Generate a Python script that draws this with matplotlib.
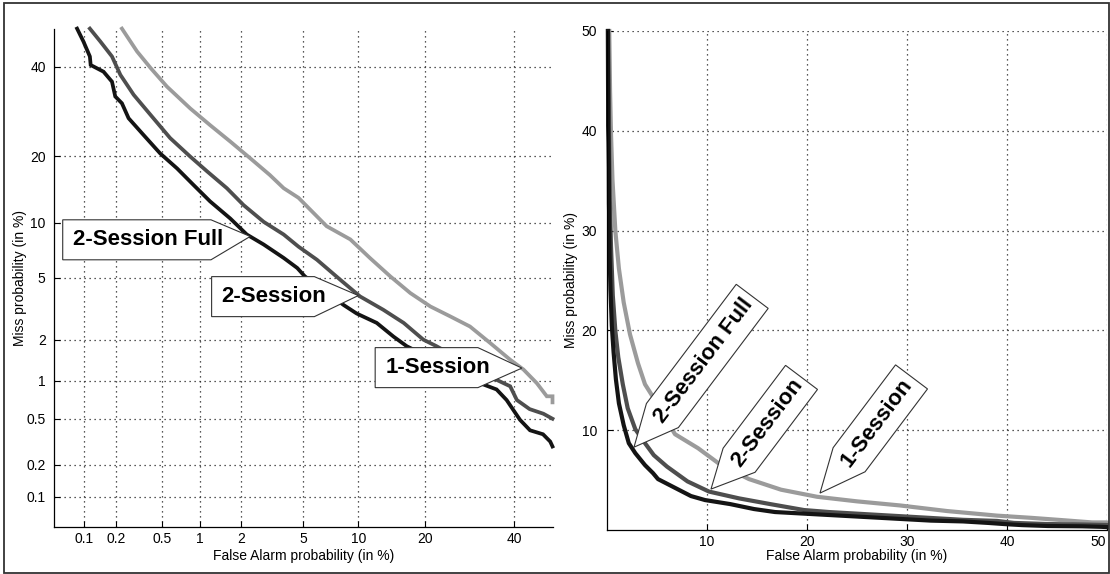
import numpy as np
import matplotlib
matplotlib.use("Agg")
import matplotlib.pyplot as plt
import matplotlib.transforms as mtransforms
from matplotlib.path import Path
from matplotlib.patches import Rectangle
from matplotlib.ticker import FixedLocator, FixedFormatter, NullLocator
from statistics import NormalDist

plt.rcParams['font.family'] = ['Liberation Sans', 'DejaVu Sans']

# DET curves: false alarm (%) vs miss (%)
fa_1s = [0.224, 0.305, 0.40, 0.546, 0.84, 1.19, 1.67, 2.3, 3.1, 3.8, 4.68, 6.8, 9.1,
         11.4, 14.2, 17.4, 21.0, 25.0, 29.3, 34.0, 39.0, 42.4, 45.9, 48.5, 50.0, 50.0]
miss_1s = [50.0, 44.0, 39.7, 35.1, 29.9, 26.2, 22.8, 19.6, 16.7, 14.6, 13.2, 9.6, 8.2,
           6.5, 5.1, 4.04, 3.33, 2.87, 2.46, 1.9, 1.44, 1.22, 0.96, 0.76, 0.76, 0.68]

fa_2s = [0.113, 0.142, 0.182, 0.217, 0.285, 0.40, 0.58, 0.84, 1.13, 1.58, 2.07, 2.83,
         3.8, 4.68, 6.0, 8.05, 10.2, 13.2, 16.3, 19.7, 22.2, 35.6, 39.0, 40.7, 44.0,
         47.6, 50.0]
miss_2s = [50.0, 46.6, 42.7, 38.0, 33.1, 28.4, 23.5, 19.9, 17.3, 14.6, 12.2, 10.1,
           8.7, 7.5, 6.35, 4.87, 3.85, 3.17, 2.6, 2.0, 1.8, 1.02, 0.91, 0.71, 0.6,
           0.55, 0.5]

fa_2sf = [0.085, 0.098, 0.113, 0.115, 0.152, 0.182, 0.195, 0.224, 0.257, 0.348, 0.48,
          0.66, 0.89, 1.19, 1.67, 2.18, 2.83, 3.8, 4.6, 5.1, 8.4, 9.8, 12.3, 14.7, 16.8,
          32.4, 35.6, 38.1, 39.8, 41.5, 44.1, 47.5, 49.4, 50.0]
miss_2sf = [50.0, 46.6, 42.7, 40.5, 38.8, 36.3, 32.7, 31.1, 27.7, 24.1, 20.5, 17.8,
            15.1, 12.7, 10.5, 8.7, 7.7, 6.5, 5.7, 5.1, 3.4, 3.0, 2.6, 2.1, 1.8, 0.94,
            0.86, 0.71, 0.59, 0.49, 0.40, 0.37, 0.32, 0.29]

det_ticks = [0.1, 0.2, 0.5, 1, 2, 5, 10, 20, 40]
det_labels = ['0.1', '0.2', '0.5', '1', '2', '5', '10', '20', '40']
lin_ticks = [10, 20, 30, 40, 50]

labels = ['1-Session', '2-Session', '2-Session Full']
colors = ['#9b9b9b', '#4e4e4e', '#141414']

# callout label positions (text centre, arrow tip) in data units
det_text = [(22.4, 1.26), (3.3, 3.84), (0.378, 8.16)]
det_tip = [(42.0, 1.25), (10.0, 3.9), (2.3, 8.5)]
lin_text = [(27.0, 10.75), (16.0, 10.7), (9.7, 17.0)]
lin_tip = [(21.3, 3.7), (10.4, 4.1), (2.7, 8.3)]

_nd = NormalDist()
_ppf = np.vectorize(_nd.inv_cdf, otypes=[float])
_cdf = np.vectorize(_nd.cdf, otypes=[float])


def probit(p):
    p = np.clip(np.asarray(p, dtype=float) / 100.0, 1e-7, 1 - 1e-7)
    return _ppf(p)


def unprobit(z):
    return _cdf(np.asarray(z, dtype=float)) * 100.0


def pointer_box(dx, dy, angle, pad_back, shoulder, k=1.8):
    a = np.deg2rad(angle)
    du = dx * np.cos(a) + dy * np.sin(a)
    dv = -dx * np.sin(a) + dy * np.cos(a)

    def style(x0, y0, width, height, mutation_size):
        cx, cy = x0 + width / 2, y0 + height / 2
        half = k * mutation_size / 2
        if du > 0:
            back, sh = x0 - pad_back, x0 + width - shoulder
        else:
            back, sh = x0 + width + pad_back, x0 + shoulder
        verts = [(back, cy - half), (sh, cy - half), (cx + du, cy + dv),
                 (sh, cy + half), (back, cy + half), (back, cy - half)]
        codes = [Path.MOVETO] + [Path.LINETO] * 4 + [Path.CLOSEPOLY]
        return Path(verts, codes)
    return style


def callout(ax, label, xy, tip, angle, pad_back, shoulder, size):
    p0 = ax.transData.transform(xy)
    p1 = ax.transData.transform(tip)
    dx, dy = p1 - p0
    ax.text(xy[0], xy[1], label, rotation=angle, ha='center', va='center',
            fontsize=size, fontweight='bold', zorder=6,
            bbox=dict(boxstyle=pointer_box(dx, dy, angle, pad_back, shoulder),
                      fc='white', ec='#333333', lw=0.8))


def style_axes(ax):
    for s in ['top', 'right']:
        ax.spines[s].set_visible(False)
    for s in ['left', 'bottom']:
        ax.spines[s].set_linewidth(0.9)
    ax.set_axisbelow(True)
    ax.grid(True, color='#222222', linestyle=(0, (1, 3)), linewidth=0.9)
    ax.tick_params(direction='in', length=4, width=0.8, labelsize=10)
    ax.tick_params(axis='x', pad=3.5)


fig = plt.figure(figsize=(11.1, 5.74), dpi=100)
W, H = 1110, 574

series = [(fa_1s, miss_1s), (fa_2s, miss_2s), (fa_2sf, miss_2sf)]

# left: DET plot on normal deviate scale
ax1 = fig.add_axes([54 / W, (H - 527) / H, 498.5 / W, 498.4 / H])
ax1.set_xscale('function', functions=(probit, unprobit))
ax1.set_yscale('function', functions=(probit, unprobit))
ax1.set_xlim(0.05, 50)
ax1.set_ylim(0.05, 50)
for axis in (ax1.xaxis, ax1.yaxis):
    axis.set_major_locator(FixedLocator(det_ticks))
    axis.set_major_formatter(FixedFormatter(det_labels))
    axis.set_minor_locator(NullLocator())
style_axes(ax1)
ax1.tick_params(axis='y', pad=6)
for (fa, miss), c in zip(series, colors):
    ax1.plot(fa, miss, color=c, lw=2.7, solid_joinstyle='miter', clip_on=False)
ax1.set_xlabel('False Alarm probability (in %)', fontsize=10)
ax1.set_ylabel('Miss probability (in %)', fontsize=10)
ax1.xaxis.set_label_coords(0.5, -0.044)
ax1.yaxis.set_label_coords(-0.055, 0.5)

# right: same curves on linear axes
ax2 = fig.add_axes([607 / W, (H - 530) / H, 500 / W, 499 / H])
ax2.set_xlim(0, 50)
ax2.set_ylim(0, 50)
ax2.set_xticks(lin_ticks)
ax2.set_yticks(lin_ticks)
style_axes(ax2)
ax2.tick_params(axis='y', pad=7)
for (fa, miss), c in zip(series, colors):
    ax2.plot(fa, miss, color=c, lw=3.0, clip_on=False)
ax2.set_xlabel('False Alarm probability (in %)', fontsize=10)
ax2.set_ylabel('Miss probability (in %)', fontsize=10)
ax2.xaxis.set_label_coords(0.5, -0.039)
ax2.yaxis.set_label_coords(-0.058, 0.5)

# last x tick label sits at the figure edge, nudge it in a little
last = ax2.get_xticklabels()[-1]
last.set_transform(last.get_transform() +
                   mtransforms.ScaledTranslation(-6 / 72, 0, fig.dpi_scale_trans))

for lab, xy, tip in zip(labels, det_text, det_tip):
    callout(ax1, lab, xy, tip, 0, 10, 12, 16)
for lab, xy, tip in zip(labels, lin_text, lin_tip):
    callout(ax2, lab, xy, tip, 53, 5, 6, 16)

fig.add_artist(Rectangle((3.5 / W, 1.0 / H), 1105 / W, 570 / H, transform=fig.transFigure,
                         fill=False, ec='#333333', lw=1.3))

fig.savefig('out.png', dpi=100)
